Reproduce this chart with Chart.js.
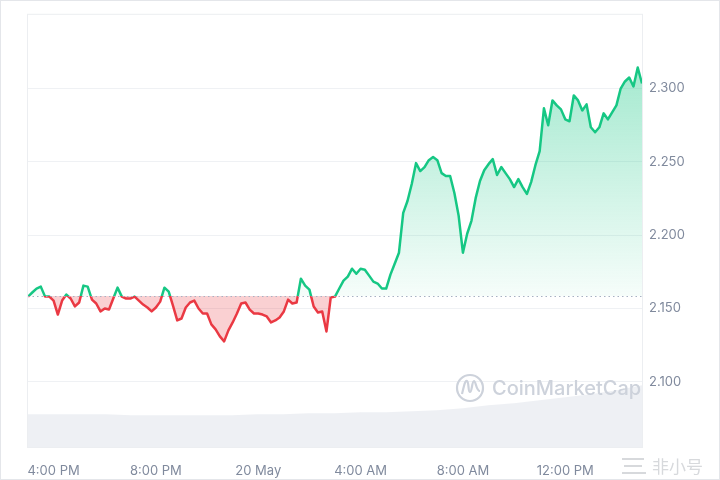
<!DOCTYPE html>
<html>
<head>
<meta charset="utf-8">
<script src="https://cdn.jsdelivr.net/npm/chart.js@4.4.1/dist/chart.umd.min.js"></script>
<style>
  html, body { margin: 0; padding: 0; background: #fff; }
  #wrap { width: 720px; height: 480px; position: relative; }
</style>
</head>
<body>
<div id="wrap"><canvas id="priceChart" width="720" height="480"></canvas></div>
<script>
// 24h window, 3:00 PM 19 May -> 3:00 PM 20 May, one price every 10 minutes
const STEP_MINUTES = 10;
const prices = [
  2.1581, 2.1609, 2.1636, 2.1649, 2.1581, 2.1581, 2.1554, 2.1459, 2.1554, 2.1595,
  2.1568, 2.1514, 2.1541, 2.1656, 2.1649, 2.1561, 2.1534, 2.1480, 2.1500, 2.1493,
  2.1568, 2.1642, 2.1581, 2.1568, 2.1568, 2.1581, 2.1554, 2.1527, 2.1507, 2.1480,
  2.1507, 2.1547, 2.1642, 2.1615, 2.1520, 2.1419, 2.1432, 2.1507, 2.1541, 2.1554,
  2.1500, 2.1466, 2.1466, 2.1392, 2.1358, 2.1310, 2.1276, 2.1351, 2.1405, 2.1466,
  2.1534, 2.1541, 2.1493, 2.1466, 2.1466, 2.1459, 2.1446, 2.1405, 2.1419, 2.1439,
  2.1480, 2.1561, 2.1534, 2.1541, 2.1703, 2.1656, 2.1629, 2.1514, 2.1473, 2.1480,
  2.1344, 2.1575, 2.1581, 2.1636, 2.1690, 2.1717, 2.1771, 2.1737, 2.1771, 2.1764,
  2.1724, 2.1683, 2.1670, 2.1636, 2.1636, 2.1731, 2.1805, 2.1880, 2.2151, 2.2232,
  2.2348, 2.2490, 2.2436, 2.2463, 2.2510, 2.2531, 2.2510, 2.2422, 2.2402, 2.2402,
  2.2287, 2.2131, 2.1880, 2.2009, 2.2097, 2.2253, 2.2368, 2.2442, 2.2483, 2.2517,
  2.2409, 2.2463, 2.2422, 2.2381, 2.2327, 2.2381, 2.2327, 2.2280, 2.2361, 2.2476,
  2.2571, 2.2863, 2.2748, 2.2917, 2.2883, 2.2856, 2.2788, 2.2775, 2.2951, 2.2917,
  2.2849, 2.2890, 2.2734, 2.2700, 2.2734, 2.2829, 2.2788, 2.2836, 2.2883, 2.2998,
  2.3046, 2.3073, 2.3012, 2.3141, 2.3032
];
const baselinePrice = 2.1586;

// 24h volume (M USD), sampled hourly
const volumeHours = [0, 1, 2, 3, 4, 5, 6, 7, 8, 9, 10, 11, 12, 13, 14, 15, 16, 17, 18, 19, 20, 21, 22, 23, 24];
const volumes = [330, 330, 330, 330, 320, 320, 320, 320, 320, 330, 330, 340, 340, 350, 350, 360, 370, 390, 420, 440, 470, 500, 530, 570, 620];

const timeTickMinutes = [60, 300, 540, 780, 1020, 1260];
const timeTickLabels = ['4:00 PM', '8:00 PM', '20 May', '4:00 AM', '8:00 AM', '12:00 PM'];
const priceTicks = [2.10, 2.15, 2.20, 2.25, 2.30];

const GREEN = '#16c784';
const RED = '#ea3943';
const LABEL_GREY = '#808a9d';

const priceData = prices.map((p, i) => ({ x: i * STEP_MINUTES, y: p }));
const volumeData = volumes.map((v, i) => ({ x: volumeHours[i] * 60, y: v }));

function splitLineColor(context) {
    const chart = context.chart;
    const area = chart.chartArea;
    if (!area) return GREEN;
    const yBase = chart.scales.y.getPixelForValue(baselinePrice);
    const t = Math.min(Math.max((yBase - area.top) / (area.bottom - area.top), 0), 1);
    const g = chart.ctx.createLinearGradient(0, area.top, 0, area.bottom);
    g.addColorStop(0, GREEN);
    g.addColorStop(t, GREEN);
    g.addColorStop(t, RED);
    g.addColorStop(1, RED);
    return g;
}

function greenFill(context) {
    const chart = context.chart;
    const area = chart.chartArea;
    if (!area) return 'rgba(22,199,132,0.2)';
    const yTop = chart.scales.y.getPixelForValue(2.32);
    const yBase = chart.scales.y.getPixelForValue(baselinePrice);
    const g = chart.ctx.createLinearGradient(0, yTop, 0, yBase);
    g.addColorStop(0, 'rgba(22,199,132,0.40)');
    g.addColorStop(1, 'rgba(22,199,132,0.04)');
    return g;
}

const decorPlugin = {
    id: 'decor',
    beforeDraw(chart) {
        const { ctx, chartArea: a } = chart;
        ctx.save();
        // outer frame of the picture
        ctx.strokeStyle = '#e4e6ea';
        ctx.lineWidth = 1;
        ctx.strokeRect(0.5, 0.5, chart.width - 1, chart.height - 1);
        // plot box
        ctx.strokeStyle = '#eceef1';
        ctx.strokeRect(a.left - 0.5, a.top - 0.5, a.right - a.left + 1, a.bottom - a.top + 1);
        ctx.restore();
    },
    afterDatasetsDraw(chart) {
        const { ctx, chartArea: a, scales } = chart;
        ctx.save();
        // dotted open-price line
        const yb = Math.round(scales.y.getPixelForValue(baselinePrice)) + 0.5;
        ctx.strokeStyle = '#a7b1c2';
        ctx.lineWidth = 1;
        ctx.setLineDash([1.5, 3]);
        ctx.beginPath();
        ctx.moveTo(a.left, yb);
        ctx.lineTo(a.right, yb);
        ctx.stroke();
        ctx.setLineDash([]);

        // CoinMarketCap watermark
        const wm = '#cdd2db';
        ctx.strokeStyle = wm;
        ctx.lineWidth = 2.2;
        ctx.beginPath();
        ctx.arc(470, 388, 13, 0, Math.PI * 2);
        ctx.stroke();
        ctx.beginPath();
        ctx.moveTo(462, 394);
        ctx.bezierCurveTo(464, 386, 465, 380, 467, 381);
        ctx.bezierCurveTo(469, 382, 468, 392, 470, 392);
        ctx.bezierCurveTo(472, 392, 472, 381, 474, 381);
        ctx.bezierCurveTo(476, 381, 476, 391, 480, 391);
        ctx.stroke();
        ctx.fillStyle = wm;
        ctx.font = '500 20px Inter, "Noto Sans", sans-serif';
        ctx.textBaseline = 'middle';
        ctx.fillText('CoinMarketCap', 492, 389);

        // 非小号 watermark, bottom right
        ctx.fillStyle = '#d7d9dc';
        ctx.fillRect(622, 458, 22, 2);
        ctx.fillRect(624, 465, 18, 2);
        ctx.fillRect(622, 472, 24, 2);
        ctx.font = '17px "Noto Sans CJK SC", sans-serif';
        ctx.fillText('非小号', 652, 467);
        ctx.restore();
    }
};

new Chart(document.getElementById('priceChart'), {
    type: 'line',
    data: {
        datasets: [
            {
                label: 'Volume',
                data: volumeData,
                yAxisID: 'vol',
                borderWidth: 0,
                pointRadius: 0,
                backgroundColor: 'rgba(222,226,234,0.5)',
                fill: 'origin',
                order: 2
            },
            {
                label: 'Price',
                data: priceData,
                yAxisID: 'y',
                borderWidth: 2.5,
                borderColor: splitLineColor,
                backgroundColor: greenFill,
                fill: { target: { value: baselinePrice }, below: 'rgba(234,57,67,0.24)' },
                pointRadius: 0,
                tension: 0,
                borderJoinStyle: 'round',
                order: 1
            }
        ]
    },
    options: {
        responsive: false,
        devicePixelRatio: 1,
        animation: false,
        layout: { padding: { left: 28, top: 13, right: 0, bottom: 0 } },
        plugins: {
            legend: { display: false },
            tooltip: { enabled: false }
        },
        scales: {
            x: {
                type: 'linear',
                min: 0,
                max: 1440,
                grid: { display: false, drawTicks: false },
                border: { display: false },
                afterBuildTicks: axis => { axis.ticks = timeTickMinutes.map(v => ({ value: v })); },
                afterFit: axis => { axis.height = 33; },
                ticks: {
                    autoSkip: false,
                    maxRotation: 0,
                    padding: 16,
                    color: LABEL_GREY,
                    font: { family: 'Inter, "Noto Sans", sans-serif', size: 13 },
                    callback: value => timeTickLabels[timeTickMinutes.indexOf(value)]
                }
            },
            y: {
                position: 'right',
                min: 2.0557,
                max: 2.35,
                grid: { color: '#eff1f4', drawTicks: false },
                border: { display: false },
                afterBuildTicks: axis => { axis.ticks = priceTicks.map(v => ({ value: v })); },
                afterFit: axis => { axis.width = 78; },
                ticks: {
                    padding: 7,
                    color: LABEL_GREY,
                    font: { family: 'Inter, "Noto Sans", sans-serif', size: 13 },
                    callback: value => value.toFixed(3)
                }
            },
            vol: {
                position: 'left',
                display: false,
                min: 0,
                max: 4340
            }
        }
    },
    plugins: [decorPlugin]
});
</script>
</body>
</html>
